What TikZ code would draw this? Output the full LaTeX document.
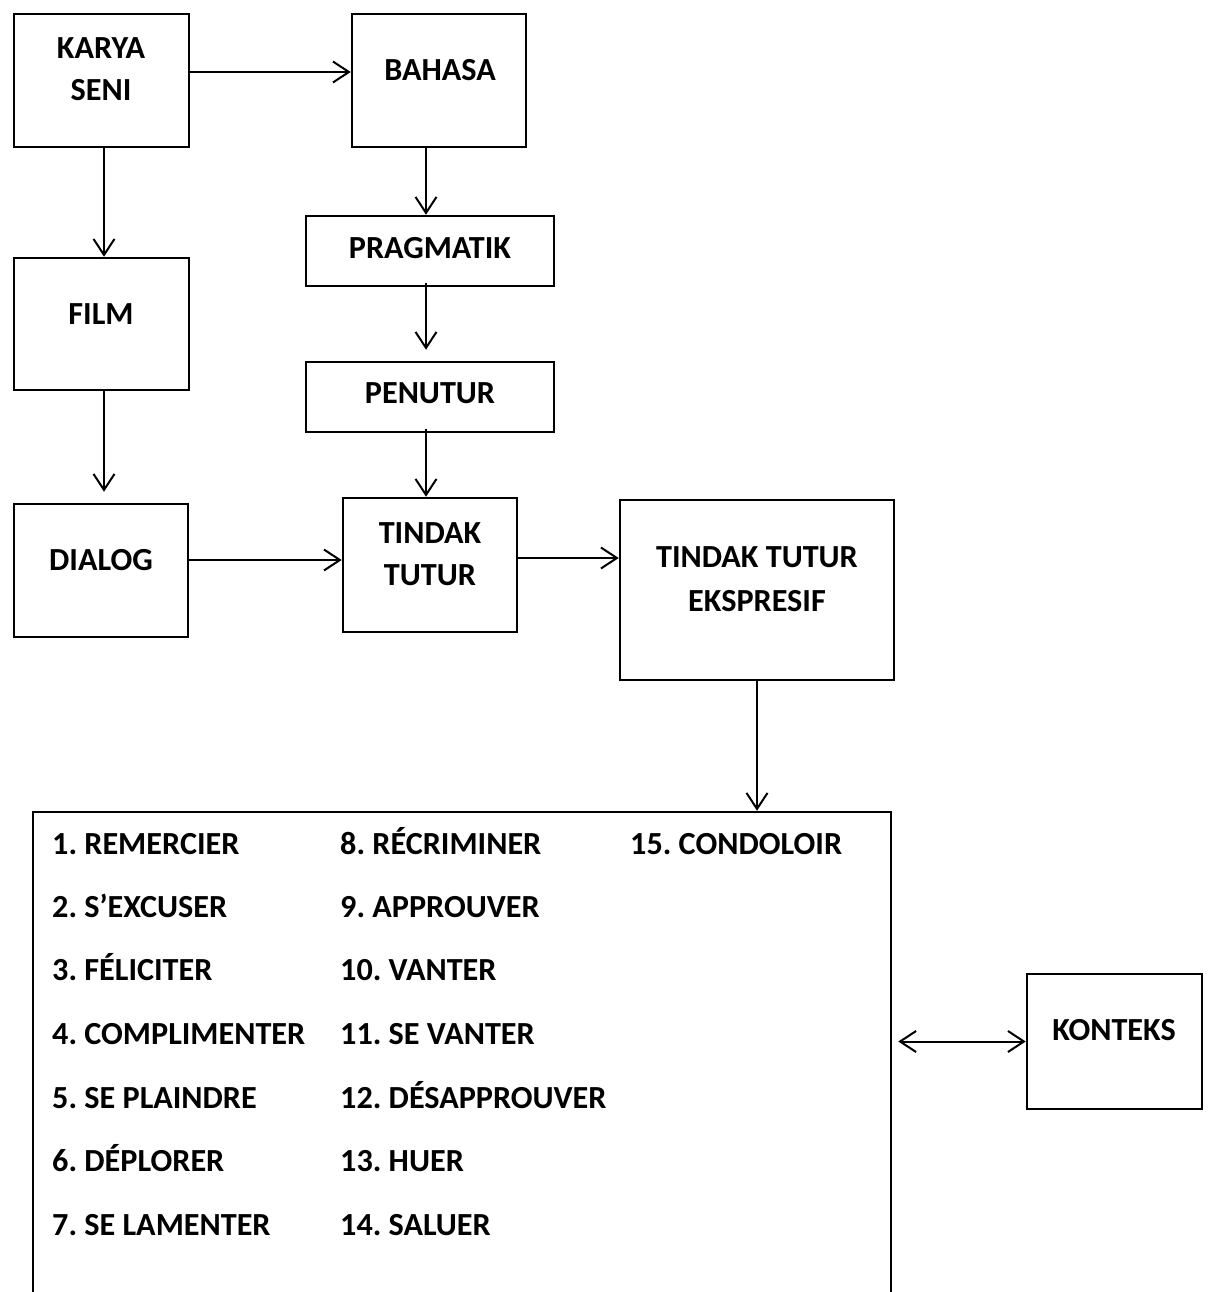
\documentclass[tikz,border=0pt]{standalone}
\usepackage{fontspec}
\setmainfont{Carlito}
\usetikzlibrary{arrows.meta}
\frenchspacing
\begin{document}
\begin{tikzpicture}[x=1pt,y=-1pt,
  box/.style={draw,line width=2.5pt,inner sep=0pt},
  lbl/.style={font=\fontsize{32.2}{32.2}\selectfont\bfseries,inner sep=0pt,text height=21pt,text depth=0pt},
  item/.style={lbl,anchor=west},
  arr/.style={line width=2pt,-{Straight Barb[length=16pt,width=21pt,line width=2pt]}},
  darr/.style={line width=2pt,{Straight Barb[length=16pt,width=21pt,line width=2pt]}-{Straight Barb[length=16pt,width=21pt,line width=2pt]}}]
\useasboundingbox (0,0) rectangle (1208,1292);
\clip (0,0) rectangle (1208,1292);
% boxes
\node[box,minimum width=175pt,minimum height=133pt] (karya) at (101.5,80.5) {};
\node[box,minimum width=174pt,minimum height=133pt] (bahasa) at (439,80.5) {};
\node[box,minimum width=175pt,minimum height=132pt] (film) at (101.5,324) {};
\node[box,minimum width=248pt,minimum height=70pt] (prag) at (430,251) {};
\node[box,minimum width=248pt,minimum height=70pt] (penutur) at (430,397) {};
\node[box,minimum width=174pt,minimum height=133pt] (dialog) at (101,570.5) {};
\node[box,minimum width=174pt,minimum height=134pt] (tt) at (430,565) {};
\node[box,minimum width=274pt,minimum height=180pt] (tte) at (757,590) {};
\node[box,minimum width=858pt,minimum height=488pt] (list) at (462,1056) {};
\node[box,minimum width=175pt,minimum height=135pt] (konteks) at (1114.5,1041.5) {};
% labels
\node[lbl] (t1) at (101,48) {KARYA};
\node[lbl] (t2) at (101,90) {SENI};
\node[lbl] (t3) at (440,70) {BAHASA};
\node[lbl] (t4) at (101,314) {FILM};
\node[lbl] (t5) at (430,248) {PRAGMATIK};
\node[lbl] (t6) at (430,393) {PENUTUR};
\node[lbl] (t7) at (101,560) {DIALOG};
\node[lbl] (t8) at (430,533) {TINDAK};
\node[lbl] (t9) at (430,575) {TUTUR};
\node[lbl] (t10) at (757,557) {TINDAK TUTUR};
\node[lbl] (t11) at (757,601) {EKSPRESIF};
\node[lbl] (t12) at (1114,1030) {KONTEKS};
% list items
\node[item] (i1) at (52,844) {1. REMERCIER};
\node[item] (i2) at (52,907) {2. S’EXCUSER};
\node[item] (i3) at (52,970) {3. FÉLICITER};
\node[item] (i4) at (52,1034) {4. COMPLIMENTER};
\node[item] (i5) at (52,1098) {5. SE PLAINDRE};
\node[item] (i6) at (52,1161) {6. DÉPLORER};
\node[item] (i7) at (52,1225) {7. SE LAMENTER};
\node[item] (i8) at (340,844) {8. RÉCRIMINER};
\node[item] (i9) at (340,907) {9. APPROUVER};
\node[item] (i10) at (340,970) {10. VANTER};
\node[item] (i11) at (340,1034) {11. SE VANTER};
\node[item] (i12) at (340,1098) {12. DÉSAPPROUVER};
\node[item] (i13) at (340,1161) {13. HUER};
\node[item] (i14) at (340,1225) {14. SALUER};
\node[item] (i15) at (630,844) {15. CONDOLOIR};
% arrows
\draw[arr] ([yshift=8.5pt]karya.east) -- ([yshift=8.5pt]karya.east -| bahasa.west);
\draw[arr] ([xshift=2.5pt]karya.south) -- ([xshift=2.5pt]karya.south |- film.north);
\draw[arr] ([xshift=-13pt]bahasa.south) -- ([xshift=-13pt]bahasa.south |- prag.north);
\draw[arr,shorten >=11pt] ([xshift=-4pt,yshift=4pt]prag.south) -- ([xshift=-4pt]prag.south |- penutur.north);
\draw[arr] ([xshift=-4pt,yshift=4pt]penutur.south) -- ([xshift=-4pt]penutur.south |- tt.north);
\draw[arr,shorten >=11pt] ([xshift=2.5pt]film.south) -- ([xshift=2.5pt]film.south |- dialog.north);
\draw[arr] ([yshift=10.5pt]dialog.east) -- ([yshift=10.5pt]dialog.east -| tt.west);
\draw[arr] ([yshift=7pt]tt.east) -- ([yshift=7pt]tt.east -| tte.west);
\draw[arr] (tte.south) -- (tte.south |- list.north);
\draw[darr,shorten <=6pt] (konteks.west -| list.east) -- (konteks.west);
\end{tikzpicture}
\end{document}
